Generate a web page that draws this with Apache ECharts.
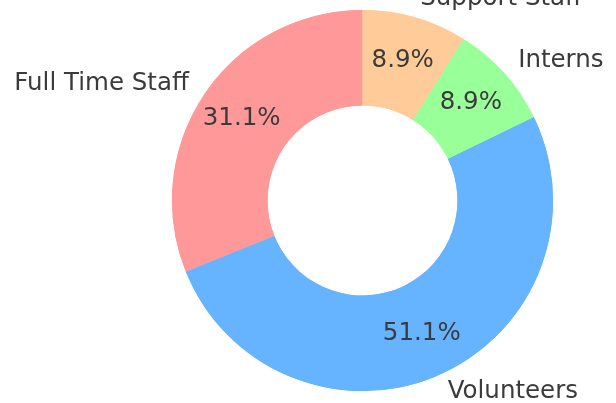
<!DOCTYPE html>
<html>
<head>
<meta charset="utf-8">
<script src="https://cdn.jsdelivr.net/npm/echarts@6/dist/echarts.min.js"></script>
<style>
  html, body { margin: 0; padding: 0; background: #fff; }
  #chart { width: 616px; height: 403px; }
</style>
</head>
<body>
<div id="chart"></div>
<script>
// 数据
const categories = ['Full Time Staff', 'Volunteers', 'Interns', 'Support Staff'];
const counts = [14, 23, 4, 4];
const colors = ['#ff9999', '#66b3ff', '#99ff99', '#ffcc99'];

const total = counts.reduce((a, b) => a + b, 0);
const pieData = categories.map((name, i) => ({
    name: name,
    value: counts[i],
    itemStyle: { color: colors[i] }
}));

const chart = echarts.init(document.getElementById('chart'));

const baseSeries = {
    type: 'pie',
    center: [362.5, 200.5],
    radius: [95, 190.5],
    startAngle: 90,
    clockwise: false,
    avoidLabelOverlap: false,
    silent: true,
    animation: false,
    itemStyle: { borderWidth: 0 },
    emphasis: { disabled: true },
    data: pieData
};

const option = {
    backgroundColor: '#ffffff',
    series: [
        Object.assign({}, baseSeries, {
            label: {
                show: true,
                position: 'outside',
                formatter: '{b}',
                fontFamily: 'DejaVu Sans',
                fontSize: 24.5,
                color: '#3b3b3b',
                distanceToLabelLine: 0
            },
            labelLine: { show: false, length: 19, length2: 0 }
        }),
        Object.assign({}, baseSeries, {
            label: {
                show: true,
                position: 'inside',
                formatter: p => (p.value / total * 100).toFixed(1) + '%',
                fontFamily: 'DejaVu Sans',
                fontSize: 24.5,
                color: '#3b3b3b'
            },
            labelLine: { show: false }
        })
    ]
};

chart.setOption(option);
</script>
</body>
</html>
